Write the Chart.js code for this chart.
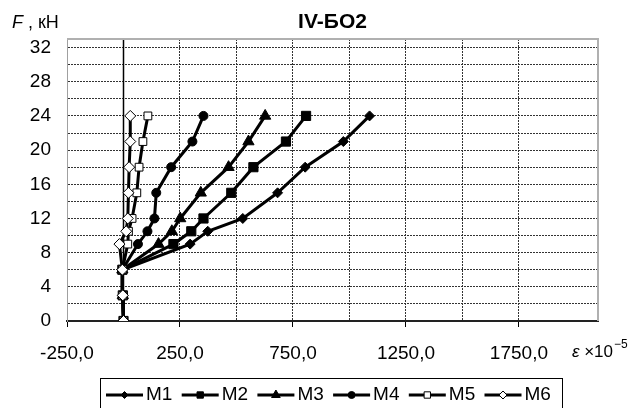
<!DOCTYPE html>
<html>
<head>
<meta charset="utf-8">
<script src="https://cdn.jsdelivr.net/npm/chart.js@4/dist/chart.umd.min.js"></script>
<style>
  html, body { margin: 0; padding: 0; background: #fff; }
  #wrap { width: 639px; height: 408px; }
</style>
</head>
<body>
<div id="wrap"><canvas id="myChart" width="639" height="408"></canvas></div>
<script>
// load levels F, kN
const loads = [0, 3, 6, 9, 10.5, 12, 15, 18, 21, 24];
// strains, x10^-5, one array per gauge
const strainM1 = [0, -3, -5, 295, 373, 528, 682, 804, 973, 1089];
const strainM2 = [0, -3, -5, 221, 300, 354, 477, 575, 719, 808];
const strainM3 = [0, -3, -5, 155, 214, 251, 342, 465, 553, 627];
const strainM4 = [0, -3, -5, 64, 106, 137, 145, 211, 305, 354];
const strainM5 = [0, -3, -5, 19, 22, 38, 59, 69, 86, 108];
const strainM6 = [0, -3, -5, -18, 12, 19, 22, 25, 30, 30];
const seriesNames = ['M1', 'M2', 'M3', 'M4', 'M5', 'M6'];
const xLabelValues = [-250, 250, 750, 1250, 1750];
const yLabelValues = [0, 4, 8, 12, 16, 20, 24, 28, 32];
const yGridValues = [0, 2, 4, 6, 8, 10, 12, 14, 16, 18, 20, 22, 24, 26, 28, 30, 32];

const FONT = '"Liberation Sans", Arial, sans-serif';
const strains = [strainM1, strainM2, strainM3, strainM4, strainM5, strainM6];

// marker look per series: style, radius on chart, fill, radius in legend
const markers = [
  {style: 'rectRot', r: 5, fill: '#000', lr: 3.5},
  {style: 'rect', r: 6.5, fill: '#000', lr: 4.5},
  {style: 'triangle', r: 6.5, fill: '#000', lr: 5},
  {style: 'circle', r: 4.5, fill: '#000', lr: 3.5},
  {style: 'rect', r: 5.5, fill: '#fff', lr: 4.5},
  {style: 'rectRot', r: 5.5, fill: '#fff', lr: 4}
];

const datasets = seriesNames.map((name, i) => ({
  label: name,
  data: loads.map((f, j) => ({x: strains[i][j], y: f})),
  showLine: true,
  borderColor: '#000',
  borderWidth: 3,
  pointStyle: markers[i].style,
  pointRadius: markers[i].r,
  pointBackgroundColor: markers[i].fill,
  pointBorderColor: '#000',
  pointBorderWidth: 1,
  order: seriesNames.length - i
}));

function marker(ctx, style, r, x, y) {
  if (Chart.helpers && Chart.helpers.drawPoint) {
    Chart.helpers.drawPoint(ctx, {pointStyle: style, radius: r, rotation: 0, borderWidth: 1}, x, y);
    return;
  }
  ctx.beginPath();
  ctx.arc(x, y, r, 0, Math.PI * 2);
  ctx.fill();
  ctx.stroke();
}

const decor = {
  id: 'decor',
  beforeDatasetsDraw(chart) {
    const {ctx, chartArea: a, scales: {x}} = chart;
    const x0 = Math.round(x.getPixelForValue(0)) + 0.5;
    ctx.save();
    ctx.strokeStyle = '#000';
    ctx.lineWidth = 1.5;
    ctx.beginPath();
    ctx.moveTo(x0, a.top);
    ctx.lineTo(x0, a.bottom);
    ctx.stroke();
    // top and right frame
    ctx.strokeStyle = '#b0b0b0';
    ctx.lineWidth = 2;
    ctx.beginPath();
    ctx.moveTo(a.left, a.top);
    ctx.lineTo(a.right, a.top);
    ctx.lineTo(a.right, a.bottom);
    ctx.stroke();
    ctx.restore();
  },
  afterDraw(chart) {
    const {ctx, chartArea: a} = chart;
    ctx.save();
    ctx.fillStyle = '#000';
    ctx.textBaseline = 'middle';

    // title
    ctx.font = 'bold 21px ' + FONT;
    ctx.textAlign = 'center';
    ctx.fillText('IV-БО2', (a.left + a.right) / 2, 22);

    // y axis name
    ctx.textAlign = 'left';
    ctx.font = 'italic 18px ' + FONT;
    ctx.fillText('F', 12, 23);
    let w = ctx.measureText('F').width;
    ctx.font = '18px ' + FONT;
    ctx.fillText(' , кН', 12 + w, 23);

    // x axis name
    ctx.font = 'italic 17px ' + FONT;
    ctx.fillText('ε', 572, 352);
    w = ctx.measureText('ε ').width;
    ctx.font = '17px ' + FONT;
    ctx.fillText('×10', 572 + w, 352);
    const w2 = ctx.measureText('×10').width;
    ctx.font = '12px ' + FONT;
    ctx.fillText('−5', 572 + w + w2 + 1, 345);

    // legend
    const lx = 100, ly = 378, lw = 462;
    ctx.strokeStyle = '#000';
    ctx.lineWidth = 1;
    ctx.strokeRect(lx + 0.5, ly + 0.5, lw, 40);
    const cy = 395;
    chart.data.datasets.forEach((ds, i) => {
      const x1 = 106 + i * 75.7;
      ctx.strokeStyle = '#000';
      ctx.lineWidth = 3;
      ctx.beginPath();
      ctx.moveTo(x1, cy);
      ctx.lineTo(x1 + 37, cy);
      ctx.stroke();
      ctx.fillStyle = markers[i].fill;
      ctx.strokeStyle = '#000';
      ctx.lineWidth = 1;
      marker(ctx, markers[i].style, markers[i].lr, x1 + 18.5, cy);
      ctx.fillStyle = '#000';
      ctx.font = '19px ' + FONT;
      ctx.textAlign = 'left';
      ctx.fillText(ds.label, x1 + 40, cy);
    });
    ctx.restore();
  }
};

new Chart(document.getElementById('myChart'), {
  type: 'scatter',
  data: {datasets},
  options: {
    responsive: false,
    devicePixelRatio: 1,
    animation: false,
    layout: {padding: {left: 0, top: 39, right: 41, bottom: 0}},
    plugins: {legend: {display: false}, tooltip: {enabled: false}, title: {display: false}},
    scales: {
      x: {
        type: 'linear',
        min: -250,
        max: 2100,
        afterBuildTicks: s => { s.ticks = s.ticks.filter(t => t.value <= 2000); },
        afterFit: s => { s.height = 87; },
        ticks: {
          stepSize: 250,
          maxTicksLimit: 100,
          autoSkip: false,
          maxRotation: 0,
          padding: 15,
          color: '#000',
          font: {family: FONT, size: 19},
          callback: v => xLabelValues.includes(v) ? v.toFixed(1).replace('.', ',') : ''
        },
        grid: {
          color: '#333',
          lineWidth: 1,
          tickLength: 6,
          tickWidth: 1,
          tickColor: c => (c.tick && xLabelValues.includes(c.tick.value)) ? '#000' : 'rgba(0,0,0,0)'
        },
        border: {color: '#222', width: 2, dash: [2, 1]}
      },
      y: {
        min: 0,
        max: 33,
        afterBuildTicks: s => { s.ticks = yGridValues.map(v => ({value: v})); },
        afterFit: s => { s.width = 67; },
        ticks: {
          autoSkip: false,
          padding: 16,
          color: '#000',
          font: {family: FONT, size: 19},
          callback: v => yLabelValues.includes(v) ? String(v) : ''
        },
        grid: {color: '#333', lineWidth: 1, drawTicks: false},
        border: {color: '#a0a0a0', width: 1, dash: [2, 1]}
      }
    }
  },
  plugins: [decor]
});
</script>
</body>
</html>
